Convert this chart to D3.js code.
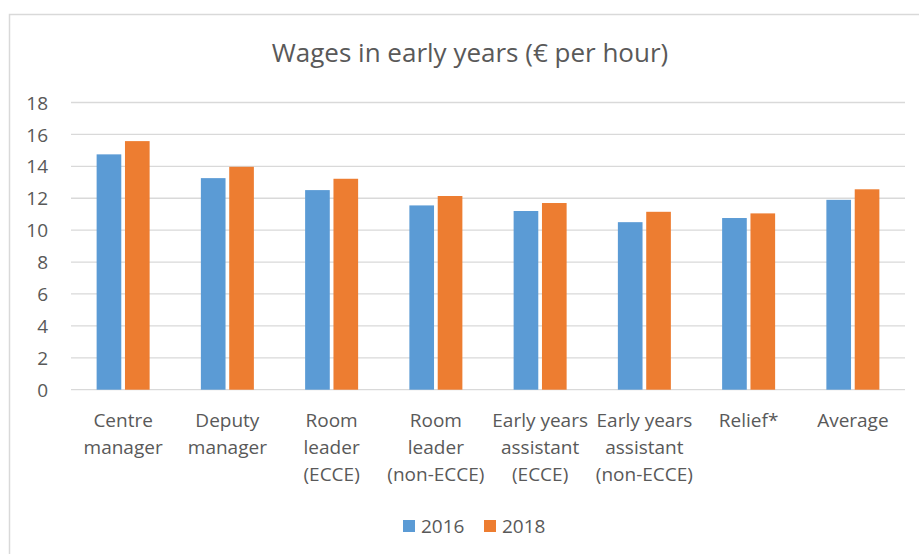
<!DOCTYPE html>
<html>
<head>
<meta charset="utf-8">
<script src="https://cdn.jsdelivr.net/npm/d3@7"></script>
<style>
  body { margin: 0; background: #fff; }
  text { font-family: "Open Sans", Lato, sans-serif; fill: #595959; }
</style>
</head>
<body>
<div id="graph"></div>
<script>
var categories = [
    ["Centre", "manager"],
    ["Deputy", "manager"],
    ["Room", "leader", "(ECCE)"],
    ["Room", "leader", "(non-ECCE)"],
    ["Early years", "assistant", "(ECCE)"],
    ["Early years", "assistant", "(non-ECCE)"],
    ["Relief*"],
    ["Average"]
];
var series = ["2016", "2018"];
var values2016 = [14.75, 13.26, 12.51, 11.55, 11.2, 10.5, 10.76, 11.9];
var values2018 = [15.58, 13.97, 13.22, 12.14, 11.7, 11.15, 11.05, 12.56];
var yTicks = [0, 2, 4, 6, 8, 10, 12, 14, 16, 18];
var colors = ["#5b9bd5", "#ed7d31"];

function drawChart() {
    var width = 919, height = 554;
    var left = 71, right = 905, top = 102.5, bottom = 389.7;

    var svg = d3.select("#graph")
        .append("svg")
        .attr("width", width)
        .attr("height", height);

    // chart frame
    svg.append("rect")
        .attr("x", 9.5).attr("y", 14.5)
        .attr("width", 930).attr("height", 560)
        .attr("fill", "none")
        .attr("stroke", "#d9d9d9")
        .attr("stroke-width", 1.5);

    svg.append("text")
        .attr("x", 470).attr("y", 62)
        .attr("text-anchor", "middle")
        .attr("font-size", "26px")
        .text("Wages in early years (€ per hour)");

    var x = d3.scaleBand()
        .domain(d3.range(categories.length))
        .range([left, right]);

    var y = d3.scaleLinear()
        .domain([0, 18])
        .range([bottom, top]);

    var inner = d3.scaleBand()
        .domain(series)
        .range([x.bandwidth() / 2 - 26.5, x.bandwidth() / 2 + 26.5])
        .paddingInner(0.13);

    // gridlines
    svg.append("g")
        .selectAll("line")
        .data(yTicks)
        .enter()
        .append("line")
        .attr("x1", left).attr("x2", right)
        .attr("y1", d => y(d)).attr("y2", d => y(d))
        .attr("stroke", "#d9d9d9")
        .attr("stroke-width", 1.3);

    // y axis labels
    var yAxis = d3.axisLeft(y).tickValues(yTicks).tickSize(0).tickPadding(0);
    var gy = svg.append("g")
        .attr("transform", "translate(48,0)")
        .call(yAxis);
    gy.select(".domain").remove();
    gy.selectAll("text")
        .attr("font-size", "19px")
        .attr("fill", "#595959")
        .attr("font-family", "'Open Sans', Lato, sans-serif")
        .attr("dy", "0.35em");

    var data = [values2016, values2018];
    var groups = svg.append("g")
        .selectAll("g")
        .data(series)
        .enter()
        .append("g")
        .attr("fill", (d, i) => colors[i]);

    groups.selectAll("rect")
        .data((s, i) => data[i].map((v, j) => ({ s: s, v: v, j: j })))
        .enter()
        .append("rect")
        .attr("x", d => x(d.j) + inner(d.s))
        .attr("y", d => y(d.v))
        .attr("width", inner.bandwidth())
        .attr("height", d => y(0) - y(d.v));

    // category labels
    var cat = svg.append("g")
        .selectAll("text")
        .data(categories)
        .enter()
        .append("text")
        .attr("text-anchor", "middle")
        .attr("font-size", "19px")
        .attr("x", (d, i) => x(i) + x.bandwidth() / 2)
        .attr("y", 427);

    cat.selectAll("tspan")
        .data(d => d)
        .enter()
        .append("tspan")
        .attr("x", function() { return d3.select(this.parentNode).attr("x"); })
        .attr("dy", (d, i) => i === 0 ? 0 : 27)
        .text(d => d);

    // legend
    var legend = svg.append("g")
        .selectAll("g")
        .data(series)
        .enter()
        .append("g")
        .attr("transform", (d, i) => "translate(" + (403 + i * 81) + ",520)");

    legend.append("rect")
        .attr("width", 12).attr("height", 12)
        .attr("fill", (d, i) => colors[i]);

    legend.append("text")
        .attr("x", 18).attr("y", 13)
        .attr("font-size", "19px")
        .text(d => d);
}

drawChart();
</script>
</body>
</html>
